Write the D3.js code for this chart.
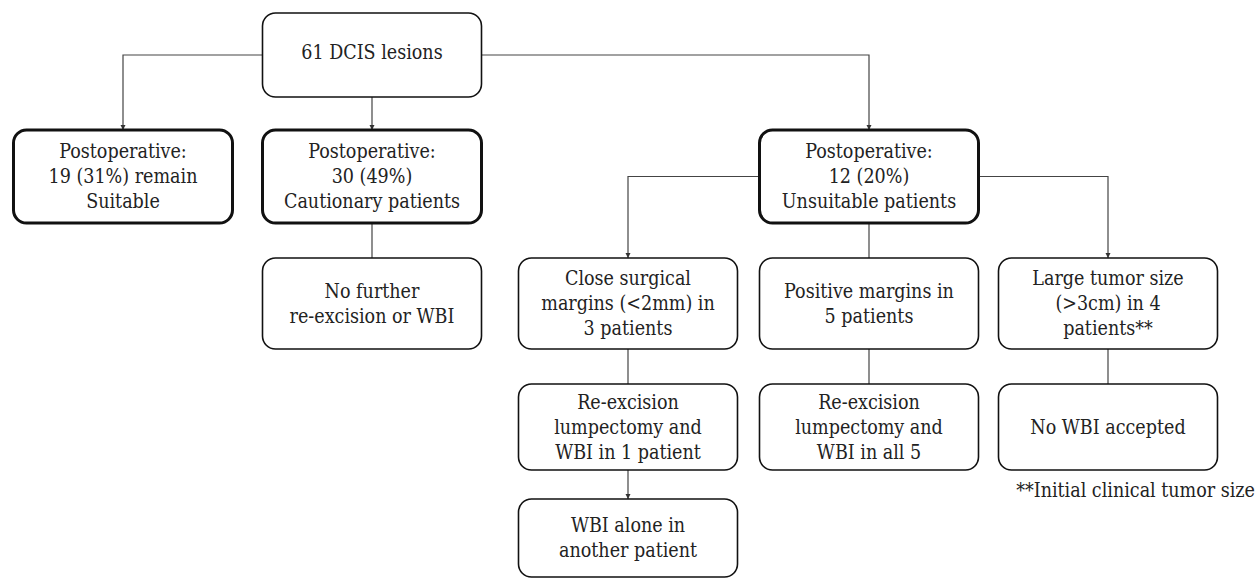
<!DOCTYPE html>
<html>
<head>
<meta charset="utf-8">
<script src="https://cdn.jsdelivr.net/npm/d3@7"></script>
<style>
  body { margin: 0; background: #fff; }
  svg { display: block; }
  .label { font-family: "DejaVu Serif Condensed", "DejaVu Serif", serif; font-stretch: condensed; font-size: 19.5px; fill: #222; }
</style>
</head>
<body>
<svg id="chart" width="1257" height="579"></svg>
<script>
//  flowchart content: which column / row each box sits in, and its text lines
const nodeIds   = ["all", "suitable", "caution", "unsuit", "noFurther", "close", "positive", "large", "reex1", "reex5", "noWbi", "wbiAlone"];
const nodeCols  = ["c1", "c0", "c1", "c3", "c1", "c2", "c3", "c4", "c2", "c3", "c4", "c2"];
const nodeRows  = ["r0", "r1", "r1", "r1", "r2", "r2", "r2", "r2", "r3", "r3", "r3", "r4"];
const nodeBold  = [false, true, true, true, false, false, false, false, false, false, false, false];
const nodeLines = [
    ["61 DCIS lesions"],
    ["Postoperative:", "19 (31%) remain", "Suitable"],
    ["Postoperative:", "30 (49%)", "Cautionary patients"],
    ["Postoperative:", "12 (20%)", "Unsuitable patients"],
    ["No further", "re-excision or WBI"],
    ["Close surgical", "margins (<2mm) in", "3 patients"],
    ["Positive margins in", "5 patients"],
    ["Large tumor size", "(>3cm) in 4", "patients**"],
    ["Re-excision", "lumpectomy and", "WBI in 1 patient"],
    ["Re-excision", "lumpectomy and", "WBI in all 5"],
    ["No WBI accepted"],
    ["WBI alone in", "another patient"]
];

//  connectors: source, target, arrowhead?
const edgeFrom  = ["all", "all", "all", "caution", "unsuit", "unsuit", "unsuit", "close", "reex1", "positive", "large"];
const edgeTo    = ["suitable", "caution", "unsuit", "noFurther", "close", "positive", "large", "reex1", "wbiAlone", "reex5", "noWbi"];
const edgeArrow = [true, true, true, false, true, false, true, false, true, false, false];

const footnote = "**Initial clinical tumor size";

const cols = ["c0", "c1", "c2", "c3", "c4"];
const rows = ["r0", "r1", "r2", "r3", "r4"];

//  layout scales
const xCenter = d3.scaleOrdinal().domain(cols).range([123, 372, 628, 869, 1108]);
const yTop    = d3.scaleOrdinal().domain(rows).range([13, 130, 258, 384, 499]);
const hRow    = d3.scaleOrdinal().domain(rows).range([84, 93, 91, 86, 78]);
const boxW = 219;
const lineH = 25;

const svg = d3.select("#chart");

const nodes = nodeIds.map((id, i) => {
    const cx = xCenter(nodeCols[i]);
    const y = yTop(nodeRows[i]);
    const h = hRow(nodeRows[i]);
    return { id, cx, x: cx - boxW / 2, y, w: boxW, h, bold: nodeBold[i], lines: nodeLines[i] };
});
const byId = {};
nodes.forEach(n => byId[n.id] = n);

svg.append("defs").append("marker")
    .attr("id", "arrow")
    .attr("viewBox", "0 0 10 10")
    .attr("refX", 10).attr("refY", 5)
    .attr("markerWidth", 5).attr("markerHeight", 7)
    .attr("markerUnits", "userSpaceOnUse")
    .attr("orient", "auto")
    .append("path").attr("d", "M0,0 L10,5 L0,10 z").attr("fill", "#333");

//  connectors first, boxes on top
const edges = edgeFrom.map((f, i) => ({ s: byId[f], t: byId[edgeTo[i]], arrow: edgeArrow[i] }));

svg.append("g").selectAll("path")
    .data(edges)
    .join("path")
    .attr("fill", "none")
    .attr("stroke", "#444")
    .attr("stroke-width", 1.2)
    .attr("d", e => {
        const { s, t } = e;
        if (Math.abs(s.cx - t.cx) < 1) {
            return `M${t.cx},${s.y + s.h} V${t.y}`;
        }
        const midY = s.y + s.h / 2;
        const sx = t.cx < s.cx ? s.x : s.x + s.w;
        return `M${sx},${midY} H${t.cx} V${t.y}`;
    })
    .attr("marker-end", e => e.arrow ? "url(#arrow)" : null);

const box = svg.append("g").selectAll("g")
    .data(nodes)
    .join("g");

box.append("rect")
    .attr("x", d => d.x).attr("y", d => d.y)
    .attr("width", d => d.w).attr("height", d => d.h)
    .attr("rx", 13).attr("ry", 13)
    .attr("fill", "#fff")
    .attr("stroke", "#111")
    .attr("stroke-width", d => d.bold ? 3 : 1.6);

box.each(function (d) {
    const g = d3.select(this);
    const n = d.lines.length;
    const cy = d.y + d.h / 2 + (d.id === "all" ? -3 : 0);
    d.lines.forEach((t, i) => {
        g.append("text")
            .attr("class", "label")
            .attr("x", d.cx)
            .attr("y", cy + (i - (n - 1) / 2) * lineH)
            .attr("dy", "0.35em")
            .attr("text-anchor", "middle")
            .text(t);
    });
});

svg.append("text")
    .attr("class", "label")
    .attr("x", 1255).attr("y", 490)
    .attr("dy", "0.35em")
    .attr("text-anchor", "end")
    .text(footnote);
</script>
</body>
</html>
